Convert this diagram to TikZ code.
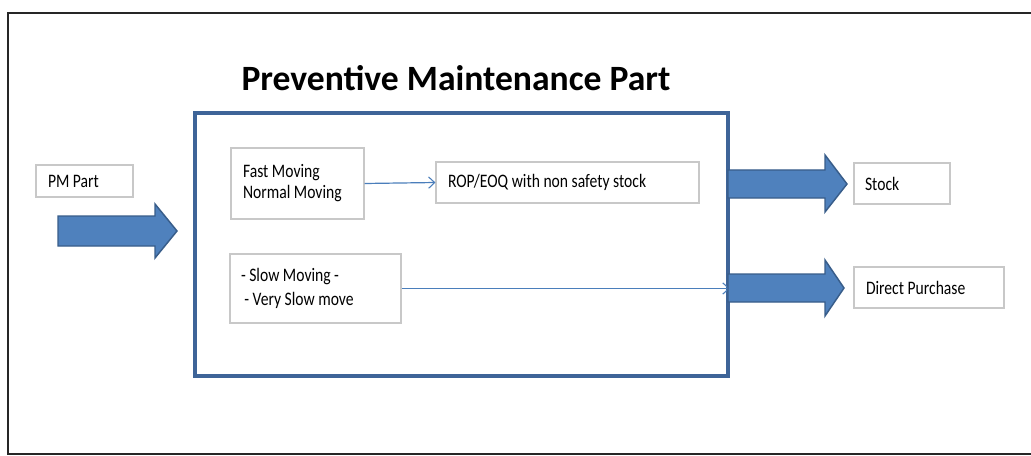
\documentclass[tikz,border=0pt]{standalone}
\usepackage{fontspec}
\setmainfont{Carlito}
\newfontfamily\boxfont[FakeStretch=0.82]{Carlito}
\usetikzlibrary{arrows.meta,shadows}
\definecolor{mainline}{RGB}{62,100,152}
\definecolor{arrowfill}{RGB}{79,129,189}
\definecolor{arrowline}{RGB}{56,93,138}
\definecolor{thinline}{RGB}{74,126,187}
\definecolor{boxline}{RGB}{200,200,200}
\tikzset{
  smallbox/.style={draw=boxline, line width=0.9pt, fill=white, rectangle, align=flush left,
    font=\boxfont\fontsize{14.3pt}{15.75pt}\selectfont, inner ysep=0pt,
    drop shadow={shadow xshift=0.8pt, shadow yshift=-0.8pt, opacity=0.25, fill=gray}},
  bigarrow/.style={fill=arrowfill, draw=arrowline, line width=1.1pt, line join=miter},
  thinarrow/.style={draw=thinline, line width=0.9pt, -{Straight Barb[length=4.5pt,width=8.5pt,line width=0.8pt]}},
}
\begin{document}
\begin{tikzpicture}[x=0.75pt,y=-0.75pt]
\useasboundingbox (0,0) rectangle (1031,456);
\fill[white] (0,0) rectangle (1031,456);
% outer frame (runs past the right edge)
\draw[line width=1.5pt, black!85] (1040,13) -- (8,13) -- (8,454) -- (1040,454);

% title
\node[font=\fontsize{26.7pt}{30pt}\selectfont\bfseries] (title) at (456,78) {Preventive Maintenance Part};

% main box
\node[draw=mainline, line width=2.3pt, minimum width=399.75pt, minimum height=197.25pt, inner sep=0pt] (main) at (461.5,244.5) {};

% small boxes
\node[smallbox, inner xsep=9pt, text width=54.75pt, minimum height=24pt] (pm) at (84.5,181) {PM Part};
\node[smallbox, inner xsep=9pt, text width=81.75pt, minimum height=53.25pt] (fast) at (297.5,183.5) {Fast Moving\\Normal Moving};
\node[smallbox, inner xsep=9pt, text width=179.25pt, minimum height=30.75pt] (rop) at (567.5,182.5) {ROP/EOQ with non safety stock};
\node[smallbox, inner xsep=8.25pt, text width=111.75pt, minimum height=51.75pt,
  font=\boxfont\fontsize{14.3pt}{17.5pt}\selectfont] (slow) at (315.5,288.5) {- Slow Moving -\\\hspace{2.5pt}- Very Slow move};
\node[smallbox, inner xsep=8.25pt, text width=55.5pt, minimum height=30.75pt] (stock) at (902,183.5) {Stock};
\node[smallbox, inner xsep=9pt, text width=94.5pt, minimum height=30.75pt] (direct) at (929,287.5) {Direct Purchase};

% thin connectors
\draw[thinarrow] (fast.east) -- (rop.west);
\draw[thinarrow] (slow.east) -- (slow.east -| main.east);

% big block arrows
\coordinate (inA) at (58,231);
\draw[bigarrow] (58,216) -- (155,216) -- (155,204) -- (177,231) -- (155,258) -- (155,246) -- (58,246) -- cycle;
\coordinate (outA) at (847,184);
\draw[bigarrow] (728,170) -- (825,170) -- (825,155) -- (847,184) -- (825,212) -- (825,198) -- (728,198) -- cycle;
\coordinate (outB) at (844,288);
\draw[bigarrow] (728,274) -- (825,274) -- (825,260) -- (844,288) -- (825,316) -- (825,302) -- (728,302) -- cycle;
\end{tikzpicture}
\end{document}
